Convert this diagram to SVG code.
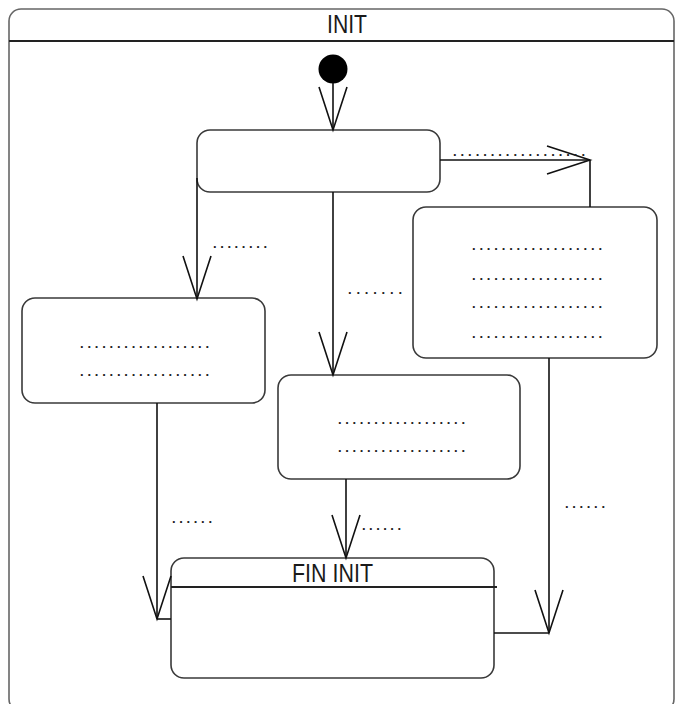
<svg xmlns="http://www.w3.org/2000/svg" width="675" height="704" viewBox="0 0 675 704">
<style>
.frame{fill:#fff;stroke:#666;stroke-width:1.6}
.state{fill:#fff;stroke:#3a3a3a;stroke-width:1.6}
.hdr{stroke:#222;stroke-width:2}
.title{font-family:"Liberation Sans",Arial,sans-serif;font-size:26px;fill:#1a1a1a}
.dots{font-family:"Liberation Sans",Arial,sans-serif;font-size:13px;font-weight:bold;fill:#222}
.conn{fill:none;stroke:#111;stroke-width:1.6}
</style>
<defs>
<marker id="open" markerUnits="userSpaceOnUse" markerWidth="50" markerHeight="34" viewBox="-46 -17 50 34" refX="0" refY="0" orient="auto">
<path d="M-43,-14 L0,0 L-43,14" fill="none" stroke="#111" stroke-width="1.6"/>
</marker>
</defs>
<g id="INIT">
<rect class="frame" x="9" y="9" width="665" height="702" rx="12"/>
<line class="hdr" x1="9" y1="41" x2="674" y2="41"/>
<text class="title" x="327" y="33" textLength="40" lengthAdjust="spacingAndGlyphs">INIT</text>
</g>
<g id="initial">
<circle cx="333" cy="69" r="14.5" fill="#000"/>
</g>
<g id="main">
<rect class="state" x="197" y="130" width="243" height="62" rx="13"/>
</g>
<g id="left">
<rect class="state" x="22" y="298" width="243" height="105" rx="13"/>
<text class="dots" x="80" y="348" textLength="129" lengthAdjust="spacing">..................</text>
<text class="dots" x="80" y="376" textLength="129" lengthAdjust="spacing">..................</text>
</g>
<g id="middle">
<rect class="state" x="278" y="375" width="242" height="104" rx="13"/>
<text class="dots" x="338" y="424" textLength="127" lengthAdjust="spacing">..................</text>
<text class="dots" x="338" y="452" textLength="127" lengthAdjust="spacing">..................</text>
</g>
<g id="right">
<rect class="state" x="413" y="207" width="244" height="151" rx="13"/>
<text class="dots" x="472" y="250" textLength="130" lengthAdjust="spacing">..................</text>
<text class="dots" x="472" y="280" textLength="130" lengthAdjust="spacing">..................</text>
<text class="dots" x="472" y="308" textLength="130" lengthAdjust="spacing">..................</text>
<text class="dots" x="472" y="338" textLength="130" lengthAdjust="spacing">..................</text>
</g>
<g id="FIN_INIT">
<rect class="state" x="171" y="558" width="323" height="120" rx="13"/>
<line class="hdr" x1="171" y1="587" x2="497" y2="587"/>
<text class="title" x="292" y="582" textLength="81" lengthAdjust="spacingAndGlyphs">FIN INIT</text>
</g>
<g id="connectors">
<path class="conn" d="M333,83 V130" marker-end="url(#open)"/>
<path class="conn" d="M440,160 H590" marker-end="url(#open)"/>
<path class="conn" d="M590,160 V207"/>
<text class="dots" x="453" y="156" textLength="132" lengthAdjust="spacing">..................</text>
<path class="conn" d="M197,178 V299" marker-end="url(#open)"/>
<text class="dots" x="213" y="248" textLength="54" lengthAdjust="spacing">........</text>
<path class="conn" d="M333,192 V375" marker-end="url(#open)"/>
<text class="dots" x="348" y="294" textLength="54" lengthAdjust="spacing">.......</text>
<path class="conn" d="M157,403 V619" marker-end="url(#open)"/>
<path class="conn" d="M157,619 H171"/>
<text class="dots" x="172" y="523" textLength="40" lengthAdjust="spacing">......</text>
<path class="conn" d="M346,479 V558" marker-end="url(#open)"/>
<text class="dots" x="362" y="530" textLength="39" lengthAdjust="spacing">......</text>
<path class="conn" d="M549,358 V633" marker-end="url(#open)"/>
<path class="conn" d="M549,633 H494"/>
<text class="dots" x="565" y="508" textLength="40" lengthAdjust="spacing">......</text>
</g>
</svg>
